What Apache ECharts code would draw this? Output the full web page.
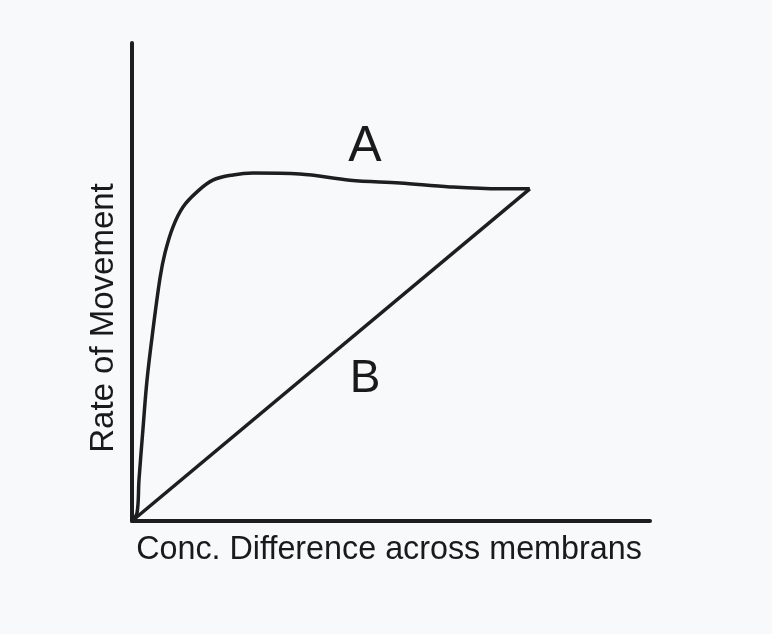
<!DOCTYPE html>
<html>
<head>
<meta charset="utf-8">
<style>
  html, body { margin: 0; padding: 0; background: #f8f9fb; }
  #chart { width: 772px; height: 634px; }
</style>
<script src="https://cdn.jsdelivr.net/npm/echarts@6/dist/echarts.min.js"></script>
</head>
<body>
<div id="chart"></div>
<script>
// Data (x: conc. difference, y: rate of movement, arbitrary 0-100 units)
const curveA_x = [0, 0.97, 1.35, 2.1, 2.9, 4.05, 5.4, 6.37, 7.9, 9.85, 12.5, 15.6, 19.5, 23.4, 32.4, 42.1, 51.7, 61.4, 71.0, 76.8];
const curveA_y = [0, 1.7, 8.6, 19.0, 29.5, 40.0, 50.8, 56.1, 61.5, 65.7, 68.8, 71.3, 72.4, 72.8, 72.6, 71.3, 70.7, 69.9, 69.5, 69.5];
const curveB_x = [0, 76.8];
const curveB_y = [0, 69.5];
const xLabel = 'Conc. Difference across membrans';
const yLabel = 'Rate of Movement';
const labelA = 'A';
const labelB = 'B';

const pairs = (xs, ys) => xs.map((x, i) => [x, ys[i]]);

const chart = echarts.init(document.getElementById('chart'), null, { renderer: 'canvas' });
const font = '"Liberation Sans", Arial, sans-serif';
chart.setOption({
  backgroundColor: '#f8f9fb',
  animation: false,
  grid: { left: 132, right: 122, top: 43, bottom: 113 },
  xAxis: {
    type: 'value', min: 0, max: 100,
    axisLine: { show: true, lineStyle: { color: '#1e1e1e', width: 4 } },
    axisTick: { show: false }, axisLabel: { show: false }, splitLine: { show: false }
  },
  yAxis: {
    type: 'value', min: 0, max: 100,
    axisLine: { show: true, onZero: false, lineStyle: { color: '#1e1e1e', width: 4 } },
    axisTick: { show: false }, axisLabel: { show: false }, splitLine: { show: false }
  },
  series: [
    {
      name: labelA, type: 'line', data: pairs(curveA_x, curveA_y),
      smooth: 0.35, showSymbol: false,
      lineStyle: { color: '#1e1e1e', width: 3.5 }
    },
    {
      name: labelB, type: 'line', data: pairs(curveB_x, curveB_y),
      showSymbol: false,
      lineStyle: { color: '#1e1e1e', width: 3.5 }
    }
  ],
  graphic: [
    { type: 'text', x: 365, y: 147, style: { text: labelA, font: '50px ' + font, fill: '#1a1a1a', align: 'center', verticalAlign: 'middle' } },
    { type: 'text', x: 365, y: 379, style: { text: labelB, font: '46px ' + font, fill: '#1a1a1a', align: 'center', verticalAlign: 'middle' } },
    { type: 'text', x: 389, y: 550, scaleX: 0.95, style: { text: xLabel, font: '34px ' + font, fill: '#1a1a1a', align: 'center', verticalAlign: 'middle' } },
    { type: 'text', x: 104, y: 318, rotation: Math.PI / 2, scaleX: 0.97, style: { text: yLabel, font: '34px ' + font, fill: '#1a1a1a', align: 'center', verticalAlign: 'middle' } }
  ]
});
</script>
</body>
</html>
